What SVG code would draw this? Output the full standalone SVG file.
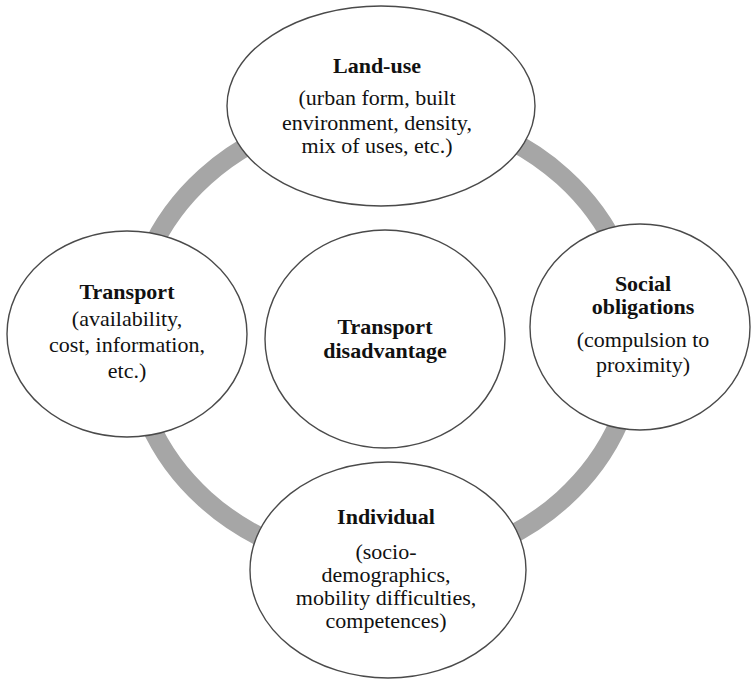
<svg xmlns="http://www.w3.org/2000/svg" width="752" height="682" viewBox="0 0 752 682">
<style>
.node{fill:#fff;stroke:#4a4a4a;stroke-width:1.4}
.ring{fill:none;stroke:#a6a6a6;stroke-width:19}
text{font-family:"Liberation Serif","Times New Roman",serif;font-size:22px;fill:#111;text-anchor:middle}
.b{font-weight:bold}
</style>
<rect width="752" height="682" fill="#fff"/>
<g id="connectors">
<ellipse class="ring" cx="384" cy="338" rx="253" ry="228"/>
</g>
<g id="center">
<ellipse class="node" cx="385" cy="339" rx="120" ry="109"/>
<text class="b" x="385" y="334">Transport</text>
<text class="b" x="385" y="358">disadvantage</text>
</g>
<g id="landuse">
<ellipse class="node" cx="381" cy="106" rx="154" ry="100"/>
<text class="b" x="377" y="73">Land-use</text>
<text x="377" y="105">(urban form, built</text>
<text x="377" y="130">environment, density,</text>
<text x="377" y="153">mix of uses, etc.)</text>
</g>
<g id="transport">
<ellipse class="node" cx="127" cy="334" rx="120" ry="103"/>
<text class="b" x="127" y="299">Transport</text>
<text x="127" y="326">(availability,</text>
<text x="127" y="352">cost, information,</text>
<text x="127" y="378">etc.)</text>
</g>
<g id="social">
<ellipse class="node" cx="640" cy="327" rx="110" ry="103"/>
<text class="b" x="643" y="291">Social</text>
<text class="b" x="643" y="314">obligations</text>
<text x="643" y="347">(compulsion to</text>
<text x="643" y="372">proximity)</text>
</g>
<g id="individual">
<ellipse class="node" cx="388" cy="570" rx="138" ry="108"/>
<text class="b" x="386" y="524">Individual</text>
<text x="386" y="559">(socio-</text>
<text x="386" y="582">demographics,</text>
<text x="386" y="605">mobility difficulties,</text>
<text x="386" y="628">competences)</text>
</g>
</svg>
